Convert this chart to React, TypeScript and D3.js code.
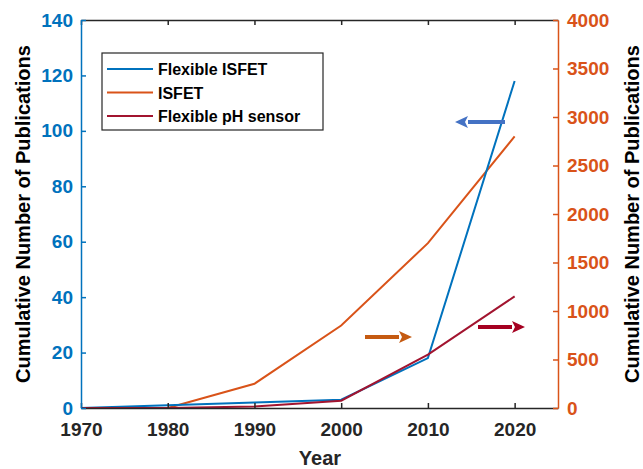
import React, { useRef, useEffect } from 'react';
import * as d3 from 'd3';

const years = [1970, 1980, 1990, 2000, 2010, 2020];
const flexibleIsfet = [0, 1, 2, 3, 18, 118];
const isfet = [0, 0, 250, 850, 1700, 2800];
const flexiblePh = [0, 0, 15, 75, 550, 1150];
const xTicks = [1970, 1980, 1990, 2000, 2010, 2020];
const leftTicks = [0, 20, 40, 60, 80, 100, 120, 140];
const rightTicks = [0, 500, 1000, 1500, 2000, 2500, 3000, 3500, 4000];
const legendNames = ['Flexible ISFET', 'ISFET', 'Flexible pH sensor'];

const BLUE = '#0072BD';
const ORANGE = '#D95319';
const RED = '#A2142F';
const FONT = '"Liberation Sans", Arial, sans-serif';

const App = () => {
  const svgRef = useRef<SVGSVGElement>(null);

  useEffect(() => {
    const svg = d3.select(svgRef.current);
    svg.selectAll('*').remove();

    const margin = { top: 20, right: 85, bottom: 61, left: 81 };
    const width = 643;
    const height = 469;

    const x = d3.scaleLinear().domain([1970, 2025]).range([margin.left, width - margin.right]);
    const yL = d3.scaleLinear().domain([0, 140]).range([height - margin.bottom, margin.top]);
    const yR = d3.scaleLinear().domain([0, 4000]).range([height - margin.bottom, margin.top]);

    const g = svg.append('g').attr('font-family', FONT).attr('font-weight', 'bold');

    // lines
    const lineL = d3.line<number>().x((d, i) => x(years[i])).y(d => yL(d));
    const lineR = d3.line<number>().x((d, i) => x(years[i])).y(d => yR(d));

    g.append('path').datum(isfet).attr('d', lineR).attr('fill', 'none')
      .attr('stroke', ORANGE).attr('stroke-width', 2);
    g.append('path').datum(flexibleIsfet).attr('d', lineL).attr('fill', 'none')
      .attr('stroke', BLUE).attr('stroke-width', 2);
    g.append('path').datum(flexiblePh).attr('d', lineR).attr('fill', 'none')
      .attr('stroke', RED).attr('stroke-width', 2);

    // bottom / top axes
    const xAxisB = d3.axisBottom(x).tickValues(xTicks).tickFormat(d3.format('d'))
      .tickSizeInner(-5).tickSizeOuter(0).tickPadding(15);
    const gb = g.append('g').attr('transform', `translate(0,${yL(0)})`).call(xAxisB);
    gb.selectAll('text').attr('font-size', 19).attr('fill', '#262626')
      .attr('font-family', FONT).attr('font-weight', 'bold');
    gb.selectAll('line, path').attr('stroke', '#262626').attr('stroke-width', 1.5);

    const xAxisT = d3.axisTop(x).tickValues(xTicks).tickFormat(() => '')
      .tickSizeInner(-5).tickSizeOuter(0);
    const gt = g.append('g').attr('transform', `translate(0,${margin.top})`).call(xAxisT);
    gt.selectAll('line, path').attr('stroke', '#262626').attr('stroke-width', 1.5);

    // left axis
    const gl = g.append('g').attr('transform', `translate(${margin.left},0)`)
      .call(d3.axisLeft(yL).tickValues(leftTicks).tickSizeInner(-5).tickSizeOuter(0).tickPadding(8));
    gl.selectAll('text').attr('font-size', 19).attr('fill', BLUE)
      .attr('font-family', FONT).attr('font-weight', 'bold');
    gl.selectAll('line, path').attr('stroke', BLUE).attr('stroke-width', 1.5);

    // right axis
    const gr = g.append('g').attr('transform', `translate(${width - margin.right},0)`)
      .call(d3.axisRight(yR).tickValues(rightTicks).tickFormat(d3.format('d'))
        .tickSizeInner(-5).tickSizeOuter(0).tickPadding(9));
    gr.selectAll('text').attr('font-size', 19).attr('fill', ORANGE)
      .attr('font-family', FONT).attr('font-weight', 'bold');
    gr.selectAll('line, path').attr('stroke', ORANGE).attr('stroke-width', 1.5);

    // axis titles
    g.append('text').attr('x', 320).attr('y', 465).attr('text-anchor', 'middle')
      .attr('font-size', 20).attr('fill', '#262626').text('Year');
    g.append('text').attr('transform', `translate(30,${yL(70)}) rotate(-90)`)
      .attr('text-anchor', 'middle').attr('font-size', 20).attr('fill', '#000').text('Cumulative Number of Publications');
    g.append('text').attr('transform', `translate(639,${yL(70)}) rotate(-90)`)
      .attr('text-anchor', 'middle').attr('font-size', 20).attr('fill', '#000').text('Cumulative Number of Publications');

    // arrows
    const arrow = (x1: number, x2: number, y: number, color: string) => {
      const dir = x2 > x1 ? 1 : -1;
      const headLen = 13;
      g.append('line').attr('x1', x1).attr('y1', y).attr('x2', x2 - dir * headLen).attr('y2', y)
        .attr('stroke', color).attr('stroke-width', 4);
      g.append('path')
        .attr('d', `M${x2},${y} L${x2 - dir * headLen},${y - 6} L${x2 - dir * (headLen - 3)},${y} L${x2 - dir * headLen},${y + 6} Z`)
        .attr('fill', color);
    };
    arrow(505, 455, 122, '#4472C4');
    arrow(365, 412, 337, '#C55A11');
    arrow(478, 525, 327, '#A50021');

    // legend
    const lg = g.append('g');
    lg.append('rect').attr('x', 102).attr('y', 53).attr('width', 221).attr('height', 77)
      .attr('fill', '#fff').attr('stroke', '#262626').attr('stroke-width', 1.2);
    const colors = [BLUE, ORANGE, RED];
    legendNames.forEach((name, i) => {
      const ly = 69 + i * 23.5;
      lg.append('line').attr('x1', 107).attr('x2', 153).attr('y1', ly).attr('y2', ly)
        .attr('stroke', colors[i]).attr('stroke-width', 2);
      lg.append('text').attr('x', 158).attr('y', ly + 6).attr('font-size', 16)
        .attr('fill', '#000').text(name);
    });
  }, []);

  return (
    <div style={{ position: 'absolute', left: 0, top: 0 }}>
      <svg ref={svgRef} width={643} height={469} style={{ display: 'block' }}></svg>
    </div>
  );
};

export default App;
